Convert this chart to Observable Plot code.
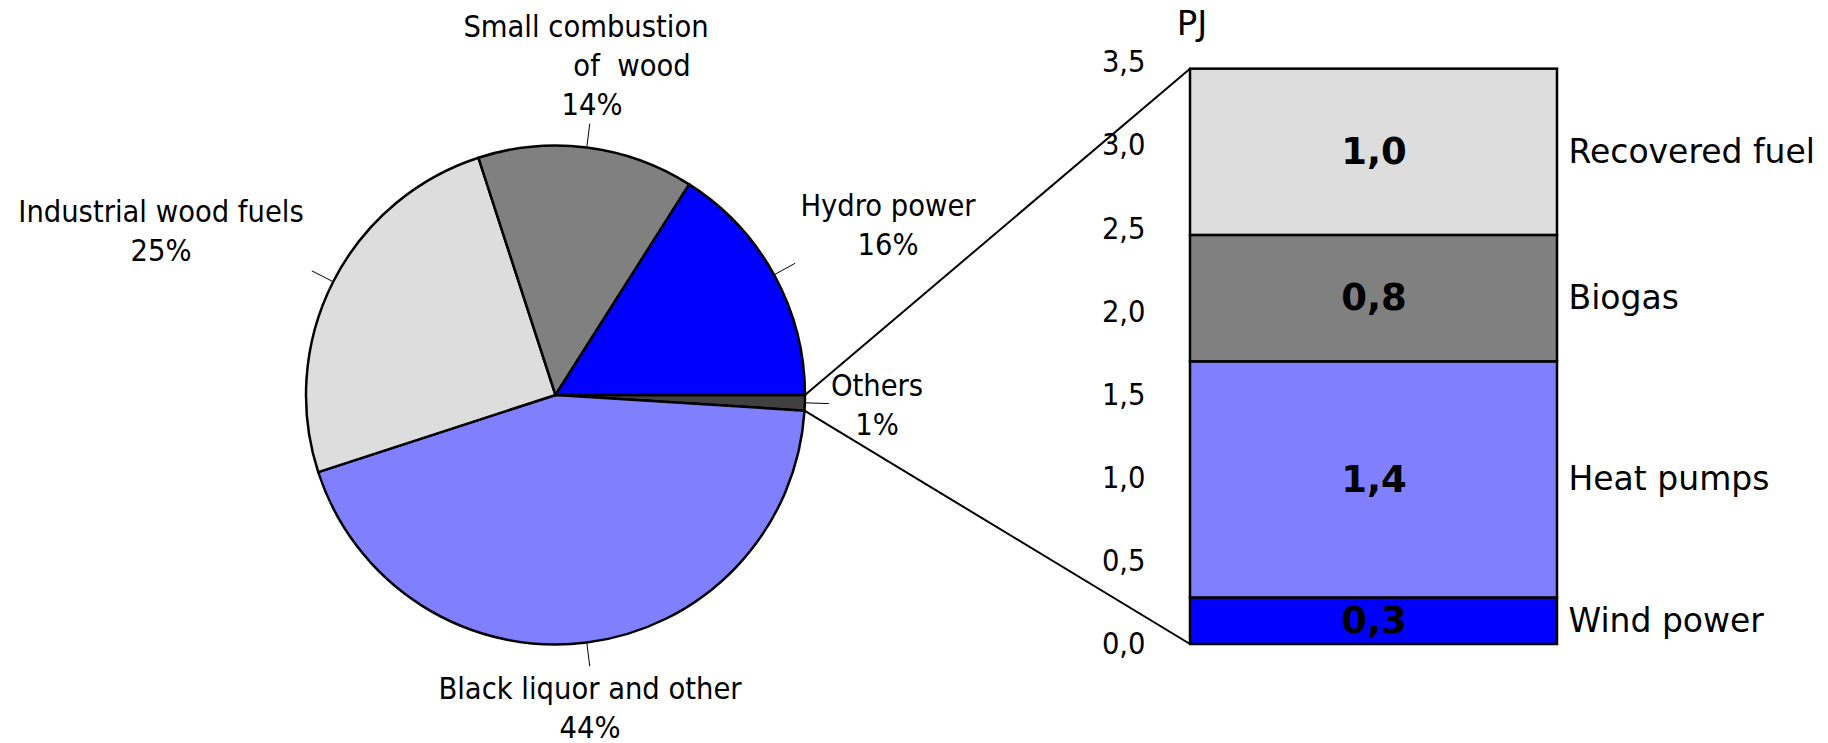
<!DOCTYPE html>
<html>
<head>
<meta charset="utf-8">
<script src="https://cdn.jsdelivr.net/npm/d3@7"></script>
<script src="https://cdn.jsdelivr.net/npm/@observablehq/plot@0.6"></script>
<style>
  html, body { margin: 0; padding: 0; background: #fff; }
  #chart { width: 1828px; height: 743px; }
</style>
</head>
<body>
<div id="chart"></div>
<script>
// ---------------- Data ----------------
// Pie: shares (%) clockwise starting at 3 o'clock
const pieCategories = ["Others", "Black liquor and other", "Industrial wood fuels", "Small combustion\nof  wood", "Hydro power"];
const pieShares = [1, 44, 25, 14, 16];
const pieColors = ["#404040", "#8080FF", "#DDDDDD", "#808080", "#0000FF"];

// Stacked bar breakdown of "Others" (PJ), bottom to top
const barCategories = ["Wind power", "Heat pumps", "Biogas", "Recovered fuel"];
const barValues = [0.28, 1.42, 0.76, 1.00];
const barColors = ["#0000FF", "#8080FF", "#808080", "#DDDDDD"];

const yTicks = [0, 0.5, 1, 1.5, 2, 2.5, 3, 3.5];
const yUnit = "PJ";

// ---------------- Layout ----------------
const W = 1828, H = 743;
const FONT = '"DejaVu Sans Condensed", "DejaVu Sans", sans-serif';
const FONT_WIDE = '"DejaVu Sans", sans-serif';
const FS = 30.5;
const frame = { left: 1190, right: 1557, top: 62, bottom: 644 };
const pie = { cx: 555.5, cy: 395, r: 249.5, leader: 24 };
const lineGap = 39;
const pieLabelLayout = [
  { x: 877, y: 396, dx: [0, 0] },
  { x: 590, y: 699, dx: [0, 0] },
  { x: 161, y: 222, dx: [0, 0] },
  { x: 588, y: 37, dx: [-2, 44, 4] },
  { x: 888, y: 216, dx: [0, 0] }
];

const fmt = v => v.toFixed(1).replace(".", ",");
const barKey = "total";
const barData = barCategories.map((c, i) => ({ category: c, value: barValues[i] }));
const pieData = pieCategories.map((c, i) => ({ category: c, share: pieShares[i], color: pieColors[i] }));

function pieMark(index, scales) {
  const g = d3.create("svg:g");
  const arcs = d3.pie().value(d => d.share).sort(null)
    .startAngle(Math.PI / 2).endAngle(Math.PI / 2 + 2 * Math.PI)(pieData);
  const arc = d3.arc().innerRadius(0).outerRadius(pie.r);
  const pt = (a, rad) => [pie.cx + rad * Math.sin(a), pie.cy - rad * Math.cos(a)];

  // connectors from "Others" slice to the bar
  const total = d3.sum(barValues);
  const bx = scales.x(barKey);
  const others = arcs[0];
  const p0 = pt(others.startAngle, pie.r), p1 = pt(others.endAngle, pie.r);
  g.append("line").attr("x1", p0[0]).attr("y1", p0[1]).attr("x2", bx).attr("y2", scales.y(total))
    .attr("stroke", "#000").attr("stroke-width", 2);
  g.append("line").attr("x1", p1[0]).attr("y1", p1[1]).attr("x2", bx).attr("y2", scales.y(0))
    .attr("stroke", "#000").attr("stroke-width", 2);

  // slices
  const pg = g.append("g").attr("transform", `translate(${pie.cx},${pie.cy})`);
  pg.selectAll("path").data(arcs).join("path")
    .attr("d", arc)
    .attr("fill", d => d.data.color)
    .attr("stroke", "#000")
    .attr("stroke-width", 2.5)
    .attr("stroke-linejoin", "round");

  // leader lines
  arcs.forEach(a => {
    const m = (a.startAngle + a.endAngle) / 2;
    const s = pt(m, pie.r + 1), e = pt(m, pie.r + pie.leader);
    g.append("line").attr("x1", s[0]).attr("y1", s[1]).attr("x2", e[0]).attr("y2", e[1])
      .attr("stroke", "#000").attr("stroke-width", 1);
  });

  // labels
  arcs.forEach((a, i) => {
    const L = pieLabelLayout[i];
    const lines = a.data.category.split("\n").concat([a.data.share + "%"]);
    lines.forEach((t, j) => {
      g.append("text")
        .attr("x", L.x + (L.dx[j] || 0))
        .attr("y", L.y + j * lineGap)
        .attr("text-anchor", "middle")
        .attr("font-family", FONT)
        .attr("font-size", FS)
        .attr("fill", "#000")
        .style("white-space", "pre")
        .attr("xml:space", "preserve")
        .text(t);
    });
  });

  // unit label
  g.append("text")
    .attr("x", bx + 2).attr("y", scales.y(3.5) - 27)
    .attr("font-family", FONT_WIDE).attr("font-size", 34).attr("fill", "#000")
    .text(yUnit);
  return g.node();
}

const chart = Plot.plot({
  width: W,
  height: H,
  marginLeft: frame.left,
  marginRight: W - frame.right,
  marginTop: frame.top,
  marginBottom: H - frame.bottom,
  style: { fontFamily: FONT, background: "white", overflow: "visible" },
  x: { type: "band", domain: [barKey], padding: 0, axis: null },
  y: { domain: [0, 3.5], axis: null },
  color: { domain: barCategories, range: barColors },
  marks: [
    Plot.axisY({ ticks: yTicks, tickFormat: fmt, tickSize: 0, tickPadding: 45, fontSize: FS, label: null, fill: "#000" }),
    pieMark,
    Plot.barY(barData, Plot.stackY({ x: () => barKey, y: "value", fill: "category", stroke: "#000", strokeWidth: 2.5 })),
    Plot.text(barData, Plot.stackY({ x: () => barKey, y: "value", text: d => fmt(d.value),
      fontWeight: "bold", fontSize: 37, fontFamily: FONT_WIDE, fill: "#000" })),
    Plot.text(barData, Plot.stackY({ x: () => barKey, y: "value", text: "category", textAnchor: "start",
      dx: (frame.right - frame.left) / 2 + 11, fontSize: 33, fontFamily: FONT_WIDE, fill: "#000" }))
  ]
});
document.getElementById("chart").appendChild(chart);
</script>
</body>
</html>
